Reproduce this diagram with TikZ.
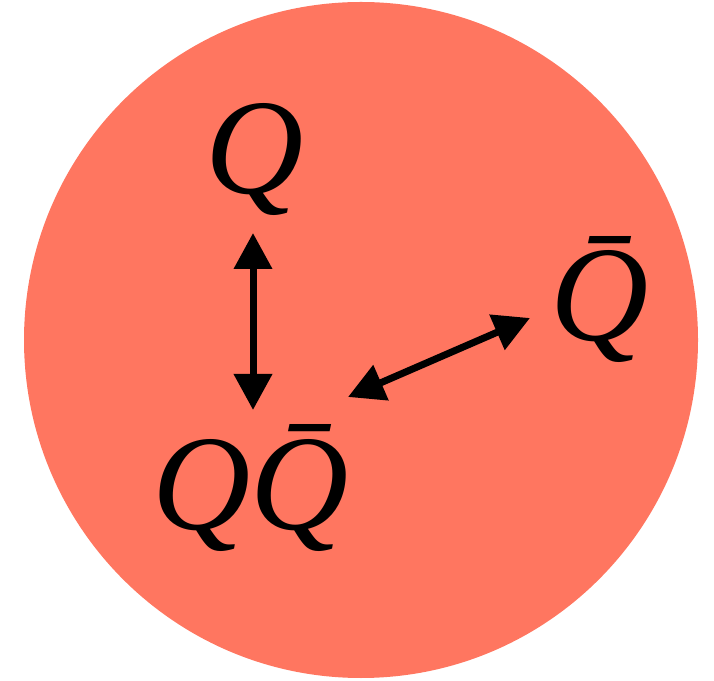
\documentclass[tikz,border=0pt]{standalone}
\usepackage{fontspec}
\setmainfont{Liberation Serif}
\usetikzlibrary{arrows.meta,calc}
\definecolor{ballred}{RGB}{255,118,96}
\tikzset{
  lbl/.style={inner sep=0pt, outer sep=0pt, anchor=base, font=\fontsize{136}{136}\selectfont\itshape},
  arr/.style={line width=7pt, {Triangle[length=36pt,width=37pt]}-{Triangle[length=36pt,width=37pt]}}
}
\begin{document}
\begin{tikzpicture}[x=1pt,y=1pt]
\useasboundingbox (0,0) rectangle (714,680);
\fill[ballred] (361,340) ellipse [x radius=337, y radius=338];
\node[lbl] (q) at (255,486) {Q};
\node[lbl] (qb) at (600,339) {\=Q};
\node[lbl] (qq) at (251,151) {Q\=Q};
\draw[arr] ($(q.base)+(-2,-39)$) -- ($(qq.base)+(2,119)$);
\draw[arr] ($(qq.base)+(97,132)$) -- ($(qb.base)+(-70,23)$);
\end{tikzpicture}
\end{document}
